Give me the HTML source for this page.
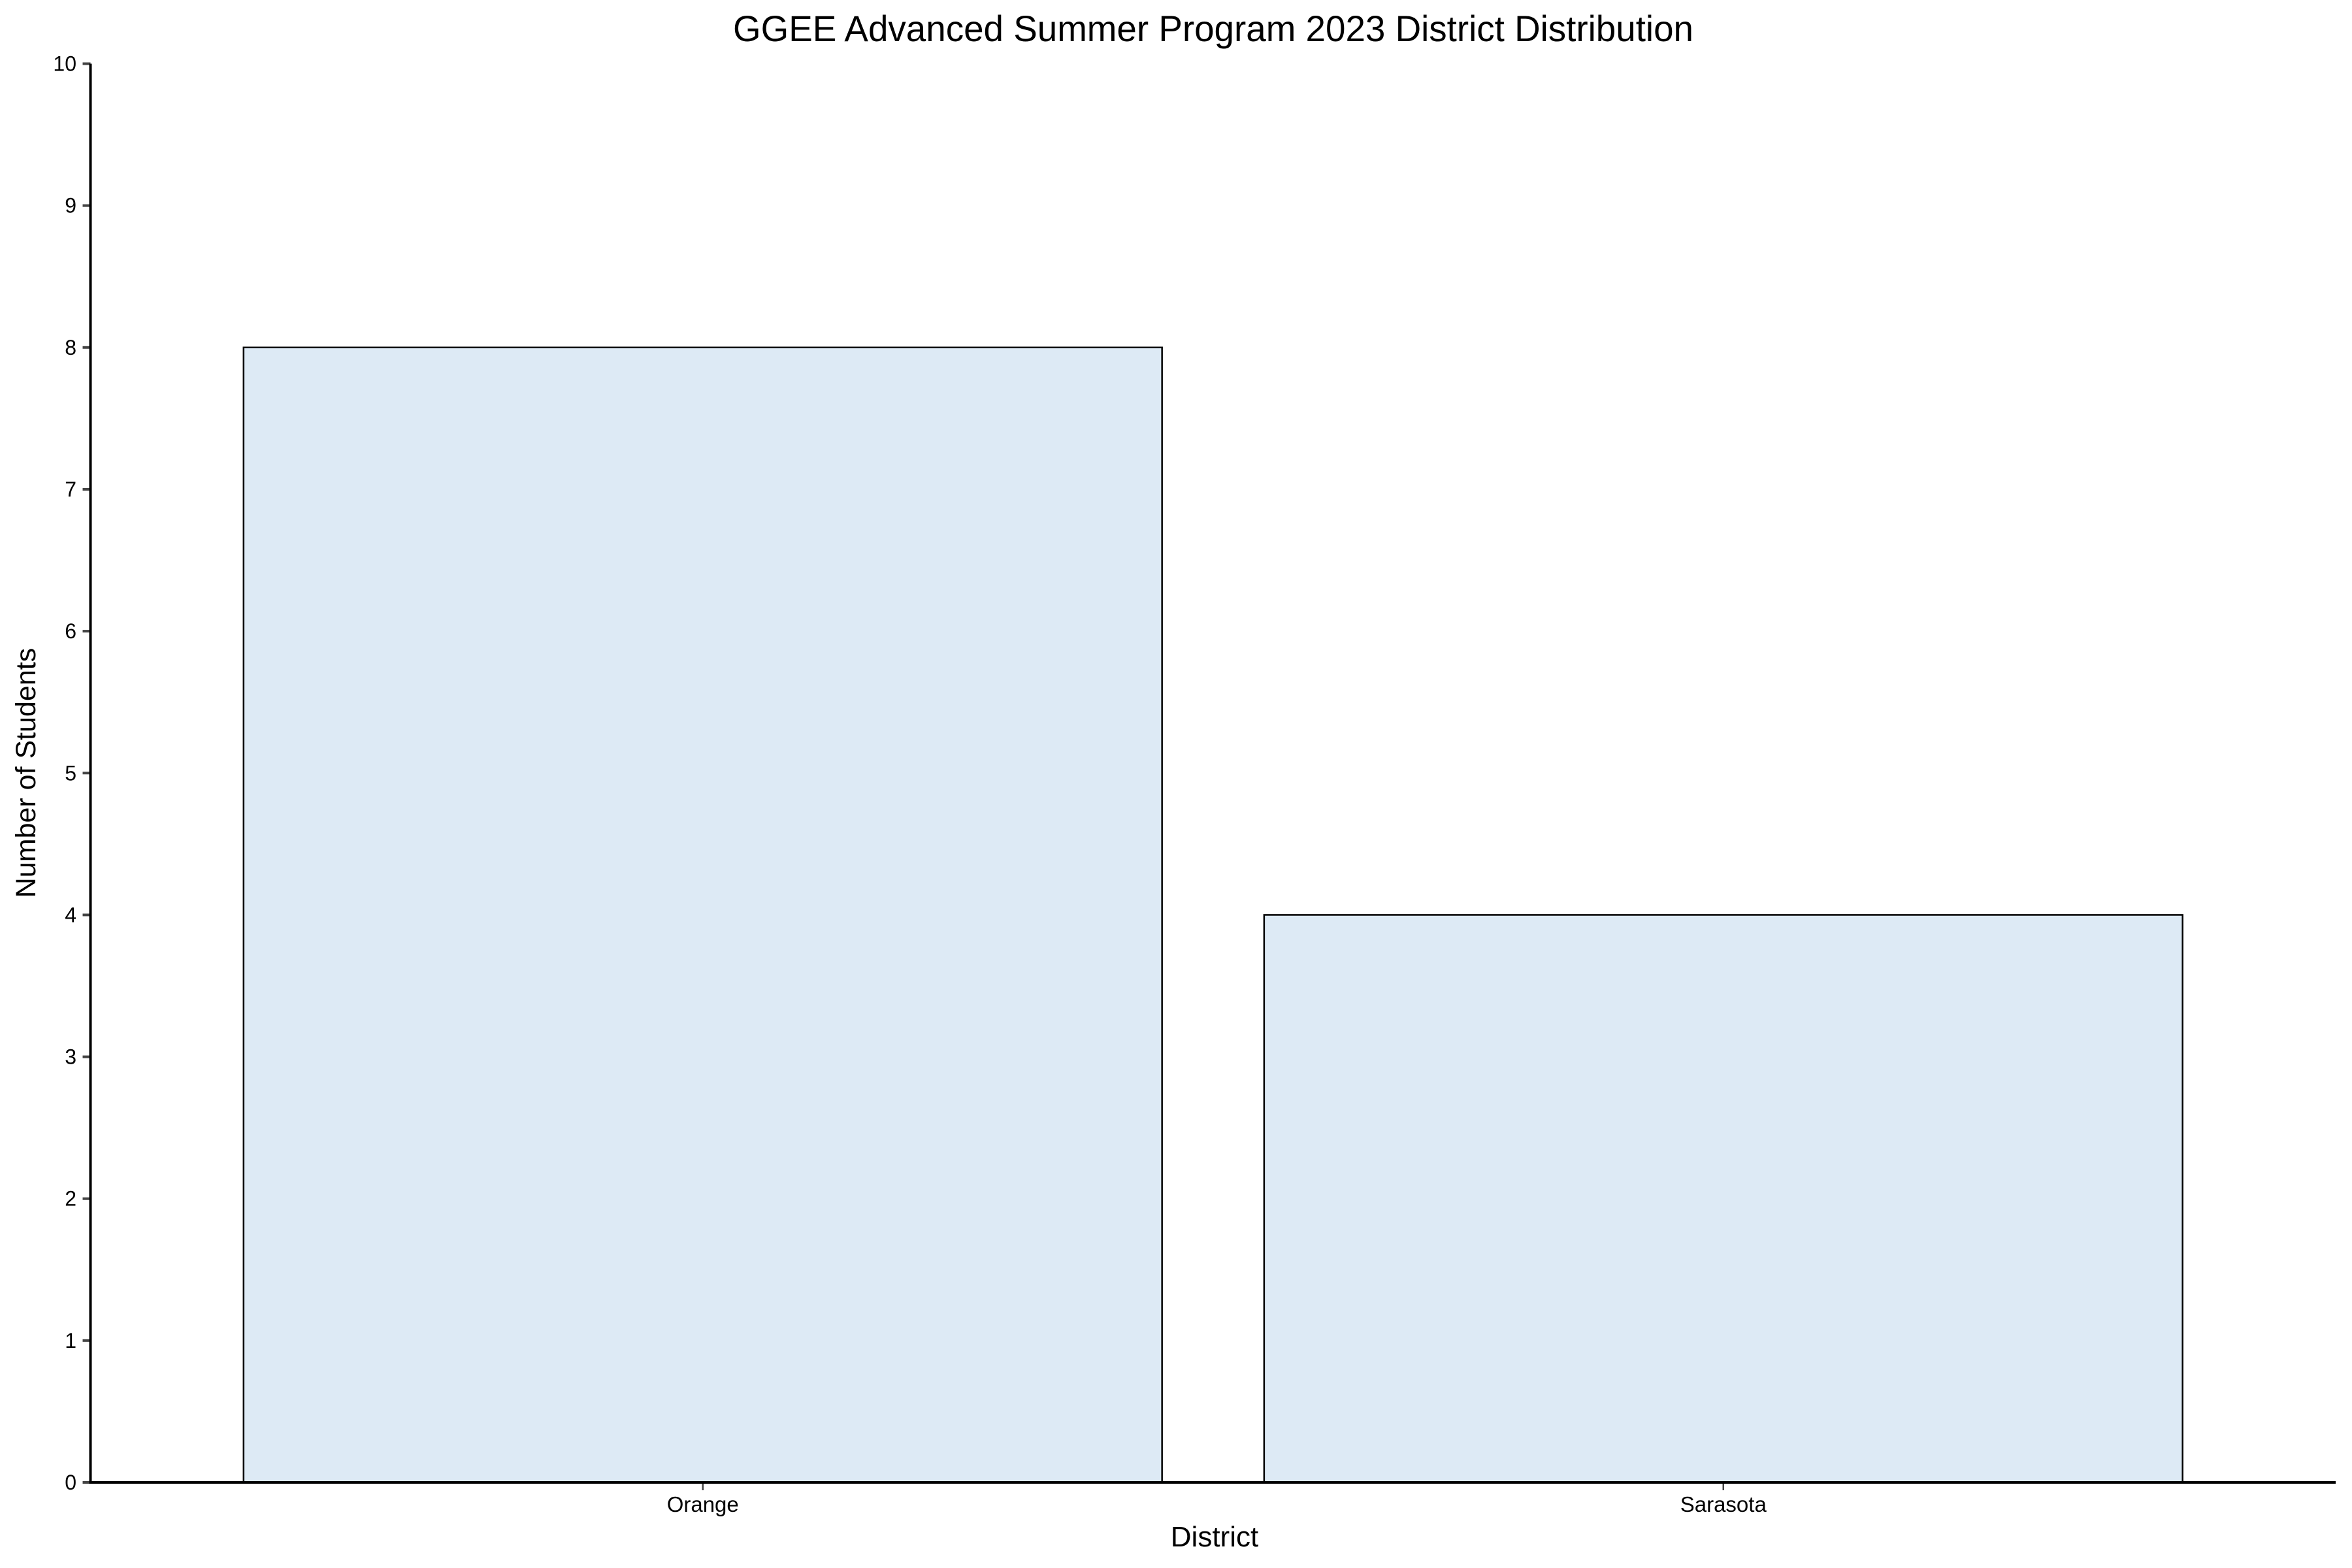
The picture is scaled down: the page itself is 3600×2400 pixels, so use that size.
<!DOCTYPE html>
<html><head><meta charset="utf-8"><style>
html,body{margin:0;padding:0;background:#fff;}
svg{display:block;font-family:"Liberation Sans",Arial,sans-serif;}
</style></head><body>
<svg id="chart" width="3600" height="2400" viewBox="0 0 3600 2400" xmlns="http://www.w3.org/2000/svg">
<rect width="3600" height="2400" fill="#fff"/>
<text x="1857" y="63" font-size="56" text-anchor="middle" textLength="1470" lengthAdjust="spacingAndGlyphs" fill="#000">GGEE Advanced Summer Program 2023 District Distribution</text>
<g id="bars"></g>
<g id="yaxis"></g>
<g id="xaxis"></g>
<text transform="translate(54,1183) rotate(-90)" font-size="43" text-anchor="middle" fill="#000">Number of Students</text>
<text x="1859" y="2367" font-size="44" text-anchor="middle" fill="#000">District</text>
</svg>
<script>
const categories = ["Orange", "Sarasota"];
const values = [8, 4];
const yTicks = [0,1,2,3,4,5,6,7,8,9,10];

const NS = "http://www.w3.org/2000/svg";
const X0 = 138.5, X1 = 3575, Y0 = 2269, Y1 = 97.5;
const xMin = -0.6, xMax = categories.length - 1 + 0.6;
const yMin = 0, yMax = 10;
function xs(v){ return X0 + (v - xMin) / (xMax - xMin) * (X1 - X0); }
function ys(v){ return Y0 - (v - yMin) / (yMax - yMin) * (Y0 - Y1); }
function mk(tag, attrs, parent){
  const e = document.createElementNS(NS, tag);
  for (const k in attrs) e.setAttribute(k, attrs[k]);
  parent.appendChild(e);
  return e;
}
const bars = document.getElementById('bars');
const yaxis = document.getElementById('yaxis');
const xaxis = document.getElementById('xaxis');
const bw = 0.9;
categories.forEach((c, i) => {
  const l = xs(i - bw/2), r = xs(i + bw/2);
  const r0 = mk('rect', {x:l, y:ys(values[i]), width:r-l, height:ys(0)-ys(values[i]), fill:'#ddeaf5', stroke:'#000', 'stroke-width':2.5}, bars);
  
  
  const t = mk('line', {x1:xs(i), x2:xs(i), y1:Y0, y2:Y0+12, stroke:'#444', 'stroke-width':2.5}, xaxis);
  
  
  const lb = mk('text', {x:xs(i), y:2314, 'font-size':33, 'text-anchor':'middle', fill:'#000'}, xaxis);
  lb.textContent = c;
  
  
});
yTicks.forEach(v => {
  const t = mk('line', {x1:X0-12, x2:X0, y1:ys(v), y2:ys(v), stroke:'#444', 'stroke-width':4}, yaxis);
  
  
  const lb = mk('text', {x:117, y:ys(v)+11, 'font-size':32, 'text-anchor':'end', fill:'#000'}, yaxis);
  lb.textContent = v;
  
  
});
const ya = mk('line', {x1:X0, x2:X0, y1:Y1, y2:Y0+2, stroke:'#000', 'stroke-width':4}, yaxis);


const xa = mk('line', {x1:X0-2, x2:X1, y1:Y0, y2:Y0, stroke:'#000', 'stroke-width':4}, xaxis);


</script>
</body></html>
